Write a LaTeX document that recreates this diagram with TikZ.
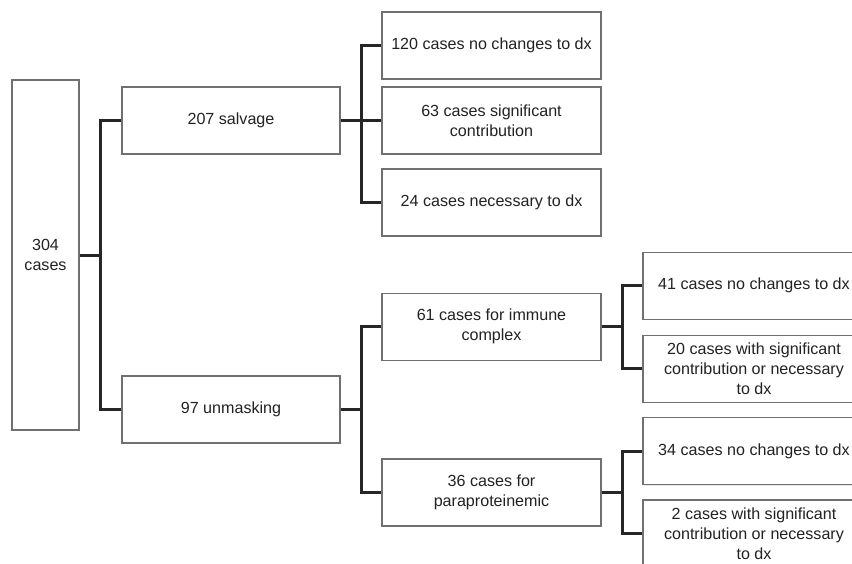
\documentclass[tikz,border=0pt]{standalone}
\usepackage{fontspec}
\setmainfont{Liberation Sans}
\usetikzlibrary{shadows}
\definecolor{boxline}{HTML}{707070}
\definecolor{connline}{HTML}{262626}
\definecolor{txt}{HTML}{222222}
\tikzset{
  box/.style={draw=boxline, line width=1.2pt, fill=white, rectangle,
    minimum width=219pt, minimum height=67pt, inner sep=0pt, align=center,
    text=txt, font=\fontsize{16.1}{20}\selectfont,
    drop shadow={opacity=0.18, shadow xshift=1pt, shadow yshift=-1.2pt}},
  conn/.style={draw=connline, line width=3pt, line cap=butt, line join=miter}
}
\begin{document}
\begin{tikzpicture}[x=1pt,y=-1pt]
\useasboundingbox (0,0) rectangle (852,563);
\clip (0,0) rectangle (852,563);
% nodes
\node[box, minimum width=67pt, minimum height=350pt] (root) at (45.5,255) {304\\cases};
\node[box, minimum width=218pt] (salv) at (231,120.5) {207 salvage};
\node[box, minimum width=218pt] (unmask) at (231,409.5) {97 unmasking};
\node[box] (s1) at (491.5,45.5) {120 cases no changes to dx};
\node[box] (s2) at (491.5,120.5) {63 cases significant\\contribution};
\node[box] (s3) at (491.5,202.5) {24 cases necessary to dx};
\node[box] (imm) at (491.5,326.7) {61 cases for immune\\complex};
\node[box] (para) at (491.5,492.5) {36 cases for\\paraproteinemic};
\node[box, minimum width=222pt] (g1) at (754,285.7) {41 cases no changes to dx};
\node[box, minimum width=222pt] (g2) at (754,368.7) {20 cases with significant\\contribution or necessary\\to dx};
\node[box, minimum width=222pt] (g3) at (754,451.3) {34 cases no changes to dx};
\node[box, minimum width=222pt] (g4) at (754,533.5) {2 cases with significant\\contribution or necessary\\to dx};
% connectors
\draw[conn] (root.east) -- ++(21,0);
\draw[conn] (root.east) ++(21,0) |- (salv.west);
\draw[conn] (root.east) ++(21,0) |- (unmask.west);
\draw[conn] (salv.east) -- (s2.west);
\draw[conn] (salv.east) ++(21,0) |- (s1.west);
\draw[conn] (salv.east) ++(21,0) |- (s3.west);
\draw[conn] (unmask.east) -- ++(21,0);
\draw[conn] (unmask.east) ++(21,0) |- (imm.west);
\draw[conn] (unmask.east) ++(21,0) |- (para.west);
\draw[conn] (imm.east) -- ++(21,0);
\draw[conn] (imm.east) ++(21,0) |- (g1.west);
\draw[conn] (imm.east) ++(21,0) |- (g2.west);
\draw[conn] (para.east) -- ++(21,0);
\draw[conn] (para.east) ++(21,0) |- (g3.west);
\draw[conn] (para.east) ++(21,0) |- (g4.west);
\end{tikzpicture}
\end{document}
